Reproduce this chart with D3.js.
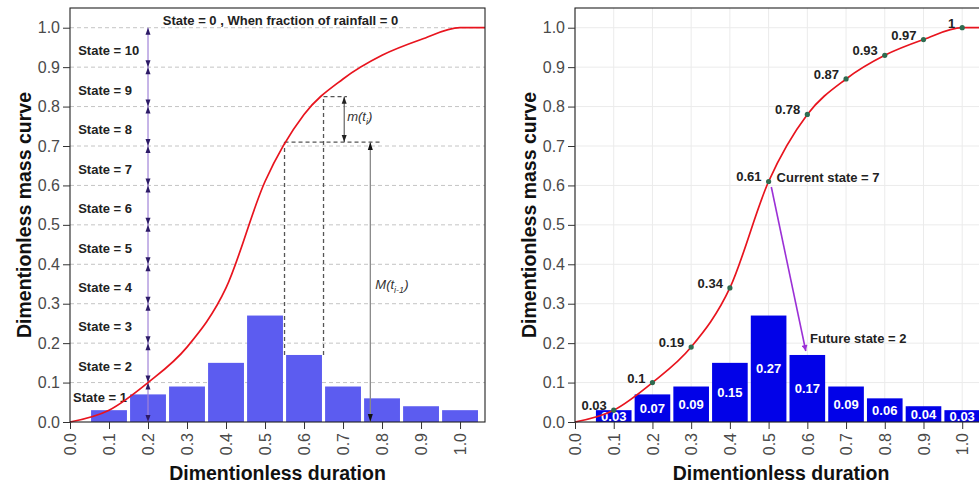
<!DOCTYPE html>
<html>
<head>
<meta charset="utf-8">
<script src="https://cdn.jsdelivr.net/npm/d3@7"></script>
<style>
  body { margin: 0; background: #fff; }
  svg { display: block; font-family: "Liberation Sans", Arial, Helvetica, sans-serif; }
</style>
</head>
<body>
<svg id="chart" width="979" height="486"></svg>
<script>
// ---- data ----
const durations = [0.1, 0.2, 0.3, 0.4, 0.5, 0.6, 0.7, 0.8, 0.9, 1.0];
const rainFractions = [0.03, 0.07, 0.09, 0.15, 0.27, 0.17, 0.09, 0.06, 0.04, 0.03];
const massX = [0, 0.1, 0.2, 0.3, 0.4, 0.5, 0.6, 0.7, 0.8, 0.9, 1.0];
const massCurve = [0, 0.03, 0.10, 0.19, 0.34, 0.61, 0.78, 0.87, 0.93, 0.97, 1.0];
const pointLabels = ["0.03", "0.1", "0.19", "0.34", "0.61", "0.78", "0.87", "0.93", "0.97", "1"];
const barLabels = ["0.03", "0.07", "0.09", "0.15", "0.27", "0.17", "0.09", "0.06", "0.04", "0.03"];
const stateLabels = ["State = 1", "State = 2", "State = 3", "State = 4", "State = 5",
                     "State = 6", "State = 7", "State = 8", "State = 9", "State = 10"];
const stateBounds = [0, 0.1, 0.2, 0.3, 0.4, 0.5, 0.6, 0.7, 0.8, 0.9, 1.0];
const xTicks = [0, 0.1, 0.2, 0.3, 0.4, 0.5, 0.6, 0.7, 0.8, 0.9, 1.0];
const yTicks = [0, 0.1, 0.2, 0.3, 0.4, 0.5, 0.6, 0.7, 0.8, 0.9, 1.0];
const stateColumn = 0.2;
// step from t(i-1) to t(i) on the mass curve
const stepEdges = [0.55, 0.65];
const stepMass = [0.71, 0.825];
const stepRuleEnds = [0.8, 0.71];
const smallArrowX = 0.703;
const bigArrowX = 0.77;
// transition from the current state to the future state
const currentState = { x: 0.5, y: 0.61 };
const transitionFrom = [0.507, 0.596];
const transitionTo = [0.596, 0.18];
const futureLabelAt = [0.607, 0.2];

const titleX = "Dimentionless duration";
const titleY = "Dimentionless mass curve";
const fmt1 = d3.format(".1f");

const svg = d3.select("#chart");
const defs = svg.append("defs");
defs.append("marker")
  .attr("id", "purpleHead").attr("viewBox", "0 0 10 10")
  .attr("refX", 10).attr("refY", 5)
  .attr("markerWidth", 7).attr("markerHeight", 6)
  .attr("markerUnits", "userSpaceOnUse")
  .attr("orient", "auto")
  .append("path").attr("d", "M0,0 L10,5 L0,10 Z").attr("fill", "#9b30d6");

const yScale = d3.scaleLinear().domain([0, 1.05]).range([422, 8]);

function triangle(x, y, dir, w, h) {
  // dir = 1: tip pointing down at (x,y); dir = -1: tip pointing up
  return `M${x},${y} L${x - w / 2},${y - dir * h} L${x + w / 2},${y - dir * h} Z`;
}

function curveLine(x, y) {
  const pts = massX.map((d, i) => [d, massCurve[i]]);
  pts.push([x.domain()[1], massCurve[massCurve.length - 1]]);
  return d3.line().x(d => x(d[0])).y(d => y(d[1])).curve(d3.curveMonotoneX)(pts);
}

function frame(g, x, y, left, right) {
  g.append("rect")
    .attr("x", left).attr("y", y.range()[1])
    .attr("width", right - left).attr("height", y.range()[0] - y.range()[1])
    .attr("fill", "none").attr("stroke", "#222").attr("stroke-width", 1.1);

  const ya = g.append("g").attr("transform", `translate(${left},0)`)
    .call(d3.axisLeft(y).tickValues(yTicks).tickFormat(fmt1).tickSize(7).tickPadding(3));
  ya.select(".domain").remove();
  ya.selectAll("line").attr("stroke", "#333");
  ya.selectAll("text").attr("font-size", 16).attr("fill", "#4a4a4a")
    .attr("font-family", "'Liberation Sans', Arial, sans-serif");

  const xa = g.append("g").attr("transform", `translate(0,${y.range()[0]})`)
    .call(d3.axisBottom(x).tickValues(xTicks).tickFormat(fmt1).tickSize(7));
  xa.select(".domain").remove();
  xa.selectAll("line").attr("stroke", "#333");
  xa.selectAll("text")
    .attr("transform", "rotate(-90)")
    .attr("text-anchor", "end")
    .attr("x", -11).attr("y", 0).attr("dy", "0.36em")
    .attr("font-size", 16).attr("fill", "#4a4a4a")
    .attr("font-family", "'Liberation Sans', Arial, sans-serif");

  g.append("text")
    .attr("x", (left + right) / 2).attr("y", 480)
    .attr("text-anchor", "middle").attr("font-weight", "bold")
    .attr("font-size", 19.5).attr("fill", "#111").text(titleX);

  g.append("text")
    .attr("transform", `translate(${left - 39},${(y.range()[0] + y.range()[1]) / 2}) rotate(-90)`)
    .attr("text-anchor", "middle").attr("font-weight", "bold")
    .attr("font-size", 19.5).attr("fill", "#111").text(titleY);
}

// ================= left panel =================
(function leftPanel() {
  const L = 70, R = 485;
  const x = d3.scaleLinear().domain([0, 1.064]).range([L, R]);
  const y = yScale;
  const g = svg.append("g");

  // dashed horizontal guides
  g.append("g").selectAll("line").data(yTicks.filter(d => d > 0)).join("line")
    .attr("x1", L).attr("x2", R)
    .attr("y1", d => y(d)).attr("y2", d => y(d))
    .attr("stroke", "#c4c4c4").attr("stroke-width", 1).attr("stroke-dasharray", "4,3");

  // rainfall fraction bars
  g.append("g").selectAll("rect").data(durations).join("rect")
    .attr("x", d => x(d - 0.046))
    .attr("width", d => x(d + 0.046) - x(d - 0.046))
    .attr("y", (d, i) => y(rainFractions[i]))
    .attr("height", (d, i) => y(0) - y(rainFractions[i]))
    .attr("fill", "#5c5cf0");

  // dashed construction lines for the step between t(i-1) and t(i)
  const dash = g.append("g").attr("stroke", "#555").attr("stroke-width", 1.3)
    .attr("stroke-dasharray", "4,3").attr("fill", "none");
  const barTop = rainFractions[5];
  stepEdges.forEach((ex, i) => {
    dash.append("line").attr("x1", x(ex)).attr("x2", x(ex))
      .attr("y1", y(barTop)).attr("y2", y(stepMass[i]));
    dash.append("line").attr("x1", x(ex)).attr("x2", x(stepRuleEnds[i]))
      .attr("y1", y(stepMass[i])).attr("y2", y(stepMass[i]));
  });

  // m(t_i) double arrow
  g.append("line").attr("x1", x(smallArrowX)).attr("x2", x(smallArrowX))
    .attr("y1", y(stepMass[1])).attr("y2", y(stepMass[0]))
    .attr("stroke", "#444").attr("stroke-width", 1);
  g.append("path").attr("d", triangle(x(smallArrowX), y(stepMass[1]), -1, 5, 7)).attr("fill", "#222");
  g.append("path").attr("d", triangle(x(smallArrowX), y(stepMass[0]), 1, 5, 7)).attr("fill", "#222");
  const mt = g.append("text").attr("x", x(smallArrowX) + 3).attr("y", y((stepMass[0] + stepMass[1]) / 2) + 2)
    .attr("font-style", "italic").attr("font-size", 13).attr("fill", "#333");
  mt.append("tspan").text("m(t");
  mt.append("tspan").attr("font-size", 9).attr("dy", 4).text("i");
  mt.append("tspan").attr("dy", -4).text(")");

  // M(t_{i-1}) double arrow
  g.append("line").attr("x1", x(bigArrowX)).attr("x2", x(bigArrowX))
    .attr("y1", y(0)).attr("y2", y(stepMass[0]))
    .attr("stroke", "#8a8a8a").attr("stroke-width", 1.3);
  g.append("path").attr("d", triangle(x(bigArrowX), y(stepMass[0]), -1, 5, 8)).attr("fill", "#111");
  g.append("path").attr("d", triangle(x(bigArrowX), y(0), 1, 5, 8)).attr("fill", "#111");
  const Mt = g.append("text").attr("x", x(bigArrowX) + 5).attr("y", y(0.34) + 1)
    .attr("font-style", "italic").attr("font-size", 13).attr("fill", "#333");
  Mt.append("tspan").text("M(t");
  Mt.append("tspan").attr("font-size", 9).attr("dy", 4).text("i-1");
  Mt.append("tspan").attr("dy", -4).text(")");

  // state column at duration 0.2
  const sx = x(stateColumn);
  g.append("line").attr("x1", sx).attr("x2", sx)
    .attr("y1", y(stateBounds[0])).attr("y2", y(stateBounds[stateBounds.length - 1]))
    .attr("stroke", "#a184d8").attr("stroke-width", 1.2);
  const heads = g.append("g").attr("fill", "#2c1a66");
  for (let k = 0; k < stateBounds.length - 1; k++) {
    heads.append("path").attr("d", triangle(sx, y(stateBounds[k + 1]), -1, 5, 7));
    heads.append("path").attr("d", triangle(sx, y(stateBounds[k]), 1, 5, 7));
  }
  g.append("g").selectAll("text").data(stateLabels).join("text")
    .attr("x", (d, i) => i === 0 ? x(0.008) : x(0.021))
    .attr("y", (d, i) => {
      const mid = (stateBounds[i] + stateBounds[i + 1]) / 2;
      return i === 0 ? y(mid) + 0 : y(mid) + 8;
    })
    .attr("font-weight", "bold").attr("font-size", 13).attr("fill", "#222")
    .text(d => d);

  g.append("text")
    .attr("x", (L + R) / 2 + 3).attr("y", 25)
    .attr("text-anchor", "middle").attr("font-weight", "bold")
    .attr("font-size", 13).attr("fill", "#222")
    .text("State = 0 , When fraction of rainfall = 0");

  // mass curve
  g.append("path").attr("d", curveLine(x, y))
    .attr("fill", "none").attr("stroke", "#e8141e").attr("stroke-width", 1.7);

  frame(g, x, y, L, R);
})();

// ================= right panel =================
(function rightPanel() {
  const L = 575, R = 987;
  const x = d3.scaleLinear().domain([0, 1.064]).range([L, R]);
  const y = yScale;
  const g = svg.append("g");

  // light grid
  g.append("g").selectAll("line").data(yTicks).join("line")
    .attr("x1", L).attr("x2", R).attr("y1", d => y(d)).attr("y2", d => y(d))
    .attr("stroke", "#ebebeb").attr("stroke-width", 1);
  g.append("g").selectAll("line").data(xTicks).join("line")
    .attr("x1", d => x(d)).attr("x2", d => x(d)).attr("y1", y.range()[0]).attr("y2", y.range()[1])
    .attr("stroke", "#ebebeb").attr("stroke-width", 1);

  // bars with values
  g.append("g").selectAll("rect").data(durations).join("rect")
    .attr("x", d => x(d - 0.046))
    .attr("width", d => x(d + 0.046) - x(d - 0.046))
    .attr("y", (d, i) => y(rainFractions[i]))
    .attr("height", (d, i) => y(0) - y(rainFractions[i]))
    .attr("fill", "#0202e8");
  g.append("g").selectAll("text").data(durations).join("text")
    .attr("x", d => x(d))
    .attr("y", (d, i) => (y(rainFractions[i]) + y(0)) / 2)
    .attr("dy", "0.36em").attr("text-anchor", "middle")
    .attr("font-weight", "bold").attr("font-size", 13).attr("fill", "#fff")
    .text((d, i) => barLabels[i]);

  // mass curve and its points
  g.append("path").attr("d", curveLine(x, y))
    .attr("fill", "none").attr("stroke", "#e8141e").attr("stroke-width", 1.7);
  const pts = massX.slice(1).map((d, i) => [d, massCurve[i + 1]]);
  g.append("g").selectAll("circle").data(pts).join("circle")
    .attr("cx", d => x(d[0])).attr("cy", d => y(d[1])).attr("r", 2.6)
    .attr("fill", "#2f6b50");
  g.append("g").selectAll("text").data(pts).join("text")
    .attr("x", d => x(d[0]) - 7).attr("y", d => y(d[1]))
    .attr("text-anchor", "end").attr("font-weight", "bold")
    .attr("font-size", 13).attr("fill", "#222")
    .text((d, i) => pointLabels[i]);

  // transition arrow
  g.append("line")
    .attr("x1", x(transitionFrom[0])).attr("y1", y(transitionFrom[1]))
    .attr("x2", x(transitionTo[0])).attr("y2", y(transitionTo[1]))
    .attr("stroke", "#9b30d6").attr("stroke-width", 1.6)
    .attr("marker-end", "url(#purpleHead)");
  g.append("text")
    .attr("x", x(currentState.x) + 8).attr("y", y(currentState.y) + 1)
    .attr("font-weight", "bold").attr("font-size", 13).attr("fill", "#222")
    .text("Current state = 7");
  g.append("text")
    .attr("x", x(futureLabelAt[0])).attr("y", y(futureLabelAt[1]))
    .attr("font-weight", "bold").attr("font-size", 13).attr("fill", "#222")
    .text("Future state = 2");

  frame(g, x, y, L, R);
})();
</script>
</body>
</html>
